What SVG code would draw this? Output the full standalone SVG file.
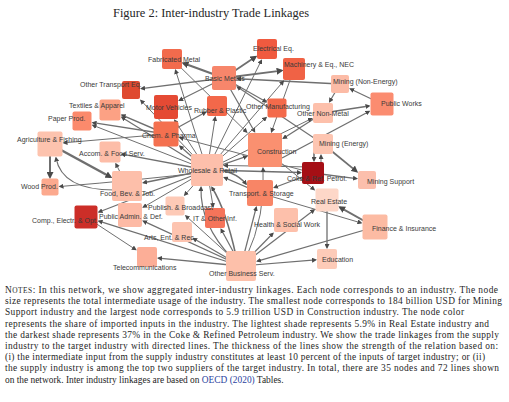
<svg xmlns="http://www.w3.org/2000/svg" width="509" height="402" viewBox="0 0 509 402">
<defs>
<style>
.e{fill:none;stroke:#6f6f6f;stroke-width:1;marker-end:url(#a)}
.k{marker-end:url(#b)}
.l{font-family:"Liberation Sans",Arial,sans-serif;font-size:7px;fill:#3a3a3a}
.t{font-family:"Liberation Serif","Times New Roman",serif;fill:#262626}
</style>
<marker id="a" viewBox="0 0 10 10" refX="7" refY="5" markerWidth="5" markerHeight="5" orient="auto" markerUnits="userSpaceOnUse"><path d="M0,0L10,5L0,10z" fill="#4a4a4a"/></marker>
<marker id="b" viewBox="0 0 10 10" refX="7" refY="5" markerWidth="7" markerHeight="7" orient="auto" markerUnits="userSpaceOnUse"><path d="M0,0L10,5L0,10z" fill="#4a4a4a"/></marker>
</defs>
<rect width="509" height="402" fill="#fff"/>
<text class="t" x="113" y="16.5" font-size="12.5" textLength="196" lengthAdjust="spacingAndGlyphs">Figure 2: Inter-industry Trade Linkages</text>
<g id="edges">
<path class="e k" style="stroke-width:2.2" d="M224,78L183.5,63.2"/>
<path class="e" style="stroke-width:1.3" d="M224,78L141.5,88.6"/>
<path class="e" style="stroke-width:1.2" d="M224,78L179.5,100.3"/>
<path class="e k" style="stroke-width:1.8" d="M224,78L255.5,56.8"/>
<path class="e k" style="stroke-width:1.8" d="M224,78L281.5,70.6"/>
<path class="e" style="stroke-width:1.2" d="M224,78L266,101.8"/>
<path class="e" style="stroke-width:1.2" d="M224,78L254.5,131.5"/>
<path class="e" style="stroke-width:1.5" d="M340,84L237.5,78.7"/>
<path class="e" style="stroke-width:1.2" d="M323,144L237.5,87"/>
<path class="e" d="M207,170L175.6,70.5"/>
<path class="e" d="M207,170L261.3,60.5"/>
<path class="e" d="M207,170L283.2,81.5"/>
<path class="e" style="stroke-width:1.5" d="M166,134L122,115.1"/>
<path class="e" style="stroke-width:1.2" d="M207,170L122,117.4"/>
<path class="e" style="stroke-width:1.3" d="M166,134L93,122.7"/>
<path class="e" d="M207,170L93,125.3"/>
<path class="e" d="M207,170L141,100.5"/>
<path class="e" style="stroke-width:1.3" d="M166,134L205.5,112.3"/>
<path class="e" d="M166,134L64,142.8"/>
<path class="e" style="stroke-width:1.3" d="M207,170L122,154.2"/>
<path class="e k" style="stroke-width:2.5" d="M50,144L110.5,177"/>
<path class="e k" style="stroke-width:2" d="M50,144L50,177"/>
<path class="e" style="stroke-width:1.2" d="M114,190Q62,190 56,158"/>
<path class="e" d="M127,186L116,164"/>
<path class="e" style="stroke-width:1.5" d="M207,170L143.5,182.7"/>
<path class="e" d="M207,172Q140,180 60,186.5"/>
<path class="e" style="stroke-width:1.2" d="M207,170L99,212"/>
<path class="e" style="stroke-width:1.3" d="M241,266L99,221.1"/>
<path class="e" style="stroke-width:1.3" d="M241,266L143.5,221.2"/>
<path class="e" style="stroke-width:1.3" d="M241,266L158.5,258.1"/>
<path class="e" d="M86,217L135.5,249.5"/>
<path class="e" d="M241,266L186,216"/>
<path class="e" style="stroke-width:1.2" d="M241,266L221.2,229.5"/>
<path class="e" style="stroke-width:1.2" d="M241,266L193.5,238.6"/>
<path class="e" style="stroke-width:1.5" d="M236,256Q226,210 212,187.5"/>
<path class="e" style="stroke-width:1.2" d="M232,258Q200,225 201,187.5"/>
<path class="e" style="stroke-width:1.2" d="M241,266L256.2,207.5"/>
<path class="e" style="stroke-width:1.2" d="M241,266L272.8,233.5"/>
<path class="e" style="stroke-width:1.2" d="M241,266L314,210"/>
<path class="e" style="stroke-width:1.2" d="M241,266L315.5,259.9"/>
<path class="e" style="stroke-width:1.2" d="M375,227L257.5,261.2"/>
<path class="e" d="M260,193L361,222.9"/>
<path class="e k" style="stroke-width:2" d="M375,227L340,207.3"/>
<path class="e" style="stroke-width:1.3" d="M327,200L327,247.5"/>
<path class="e" style="stroke-width:1.3" d="M313,173L274.5,187.5"/>
<path class="e" style="stroke-width:1.3" d="M313,173L356.5,178.6"/>
<path class="e k" style="stroke-width:1.8" d="M323,144L356.5,171.4"/>
<path class="e" style="stroke-width:1.6" d="M314,144L314,160.5"/>
<path class="e" d="M321,173L321,155.5"/>
<path class="e" style="stroke-width:1.5" d="M207,170L300.5,172.6"/>
<path class="e" style="stroke-width:1.2" d="M313,167L224.5,165.5"/>
<path class="e" d="M313,173L180,137.7"/>
<path class="e" style="stroke-width:1.2" d="M260,193L224.5,177.6"/>
<path class="e" style="stroke-width:1.5" d="M207,168Q235,170 246,184"/>
<path class="e" d="M207,170L184.8,195"/>
<path class="e" d="M207,170L213.1,206.5"/>
<path class="e" d="M207,170L143.5,207.1"/>
<path class="e" style="stroke-width:1.3" d="M207,170L246.5,156.4"/>
<path class="e" style="stroke-width:1.3" d="M323,113L283.5,138.2"/>
<path class="e" style="stroke-width:1.3" d="M323,113L369,106"/>
<path class="e" style="stroke-width:1.3" d="M282,158L369,111.5"/>
<path class="e" style="stroke-width:1.2" d="M382,104L350.5,89"/>
<path class="e" style="stroke-width:1.2" d="M340,84L329.7,101.5"/>
<path class="e" d="M207,170L215.2,117.5"/>
<path class="e" d="M207,170L266,117.7"/>
<path class="e" d="M207,170L311.5,118.7"/>
<path class="e" d="M207,170L174.8,120.5"/>
<path class="e" style="stroke-width:1.2" d="M207,170L180,146.3"/>
<path class="e" d="M265,150L314,189.5"/>
<path class="e" d="M246,258Q266,215 263,168.5"/>
<path class="e" d="M172,59L246.5,131.9"/>
<path class="e" d="M294,69L271.6,131.5"/>
</g>
<g id="nodes">
<g id="n-fm"><rect x="162" y="49" width="20" height="20" rx="2" fill="#f26b4d"/><text class="l" x="148" y="62">Fabricated Metal</text></g>
<g id="n-ee"><rect x="257" y="39" width="20" height="20" rx="2" fill="#f05a3f"/><text class="l" x="253" y="50.5">Electrical Eq.</text></g>
<g id="n-ma"><rect x="283" y="58" width="22" height="22" rx="2" fill="#f06245"/><text class="l" x="284" y="66.5">Machinery &amp; Eq., NEC</text></g>
<g id="n-bm"><rect x="212" y="66" width="24" height="24" rx="2" fill="#f7866b"/><text class="l" x="205" y="80.5">Basic Metals</text></g>
<g id="n-ot"><rect x="122" y="81" width="18" height="18" rx="2" fill="#df4a30"/><text class="l" x="80" y="86.5">Other Transport Eq.</text></g>
<g id="n-mv"><rect x="154" y="95" width="24" height="24" rx="2" fill="#e54a34"/><text class="l" x="146" y="109.5">Motor Vehicles</text></g>
<g id="n-tx"><rect x="99.5" y="99.5" width="21" height="21" rx="2" fill="#fca184"/><text class="l" x="69" y="107.5">Textiles &amp; Apparel</text></g>
<g id="n-pp"><rect x="72.5" y="111.5" width="19" height="19" rx="2" fill="#fb8a6c"/><text class="l" x="48" y="120.5">Paper Prod.</text></g>
<g id="n-ag"><rect x="37.5" y="131.5" width="25" height="25" rx="2" fill="#fdc3ae"/><text class="l" x="17" y="141.5">Agriculture &amp; Fishing</text></g>
<g id="n-ch"><rect x="153.5" y="121.5" width="25" height="25" rx="2" fill="#f4704f"/><text class="l" x="142" y="137.5">Chem. &amp; Pharma</text></g>
<g id="n-rp"><rect x="207" y="96" width="20" height="20" rx="2" fill="#f3684a"/><text class="l" x="194" y="112.5">Rubber &amp; Plastic</text></g>
<g id="n-om"><rect x="267.5" y="98.5" width="19" height="19" rx="2" fill="#f46a4b"/><text class="l" x="246" y="108.5">Other Manufacturing</text></g>
<g id="n-mn"><rect x="331" y="75" width="18" height="18" rx="2" fill="#fcbba6"/><text class="l" x="333" y="83.5">Mining (Non-Energy)</text></g>
<g id="n-pw"><rect x="370.5" y="92.5" width="23" height="23" rx="2" fill="#fb8c70"/><text class="l" x="381" y="105.5">Public Works</text></g>
<g id="n-on"><rect x="313" y="103" width="20" height="20" rx="2" fill="#fdc0ab"/><text class="l" x="297" y="115.5">Other Non-Metal</text></g>
<g id="n-ac"><rect x="99.5" y="141.5" width="21" height="21" rx="2" fill="#fdbda8"/><text class="l" x="79" y="155.5">Accom. &amp; Food Serv.</text></g>
<g id="n-wp"><rect x="41.5" y="178.5" width="17" height="17" rx="2" fill="#fca98e"/><text class="l" x="21" y="188.5">Wood Prod.</text></g>
<g id="n-fb"><rect x="112" y="171" width="30" height="30" rx="2" fill="#fdbfaa"/><text class="l" x="100" y="195.5">Food, Bev. &amp; Tob.</text></g>
<g id="n-ce"><rect x="74.5" y="205.5" width="23" height="23" rx="2" fill="#cc2e28"/><text class="l" x="32" y="222.5">Comp., Electr. &amp; Opt.</text></g>
<g id="n-pa"><rect x="118" y="203" width="24" height="24" rx="2" fill="#fdbaa5"/><text class="l" x="99" y="218.5">Public Admin. &amp; Def.</text></g>
<g id="n-tc"><rect x="137" y="247" width="20" height="20" rx="2" fill="#fcae97"/><text class="l" x="113" y="269.5">Telecommunications</text></g>
<g id="n-wr"><rect x="191" y="154" width="32" height="32" rx="2" fill="#fdbfab"/><text class="l" x="178" y="172.5">Wholesale &amp; Retail</text></g>
<g id="n-co"><rect x="248" y="133" width="34" height="34" rx="2" fill="#fa9070"/><text class="l" x="257" y="153.5">Construction</text></g>
<g id="n-me"><rect x="313" y="134" width="20" height="20" rx="2" fill="#fdc5b1"/><text class="l" x="319" y="145.5">Mining (Energy)</text></g>
<g id="n-ck"><rect x="302" y="162" width="22" height="22" rx="2" fill="#a50f15"/><text class="l" x="287" y="181">Coke &amp; Ref. Petrol.</text></g>
<g id="n-ts"><rect x="247" y="180" width="26" height="26" rx="2" fill="#f88566"/><text class="l" x="229" y="195.5">Transport. &amp; Storage</text></g>
<g id="n-re"><rect x="315.5" y="188.5" width="23" height="23" rx="2" fill="#fdd7c8"/><text class="l" x="311" y="203.5">Real Estate</text></g>
<g id="n-hs"><rect x="274" y="208" width="24" height="24" rx="2" fill="#fdc0ab"/><text class="l" x="254" y="226.5">Health &amp; Social Work</text></g>
<g id="n-it"><rect x="205" y="208" width="20" height="20" rx="2" fill="#f5745a"/><text class="l" x="193" y="220.5">IT &amp; Other Inf.</text></g>
<g id="n-pb"><rect x="165.5" y="196.5" width="19" height="19" rx="2" fill="#fdcab7"/><text class="l" x="148" y="209.5">Publish. &amp; Broadcast</text></g>
<g id="n-ar"><rect x="172" y="222" width="20" height="20" rx="2" fill="#fdc4b0"/><text class="l" x="144" y="239.5">Arts, Ent. &amp; Rec.</text></g>
<g id="n-ob"><rect x="226" y="251" width="30" height="30" rx="2" fill="#fdc0aa"/><text class="l" x="209" y="275.5">Other Business Serv.</text></g>
<g id="n-ed"><rect x="317" y="249" width="20" height="20" rx="2" fill="#fdcbb8"/><text class="l" x="322" y="261.5">Education</text></g>
<g id="n-ms"><rect x="358" y="171" width="18" height="18" rx="2" fill="#fcbfac"/><text class="l" x="367" y="183.5">Mining Support</text></g>
<g id="n-fi"><rect x="362.5" y="214.5" width="25" height="25" rx="2" fill="#fcbba3"/><text class="l" x="372" y="230.5">Finance &amp; Insurance</text></g>
</g>
<g id="notes" class="t" font-size="9.4">
<text x="5" y="293" textLength="493" lengthAdjust="spacing">N<tspan font-size="7.4">OTES</tspan>: In this network, we show aggregated inter-industry linkages. Each node corresponds to an industry. The node</text>
<text x="5" y="304.2" textLength="497" lengthAdjust="spacing">size represents the total intermediate usage of the industry. The smallest node corresponds to 184 billion USD for Mining</text>
<text x="5" y="315.4" textLength="459" lengthAdjust="spacing">Support industry and the largest node corresponds to 5.9 trillion USD in Construction industry. The node color</text>
<text x="5" y="326.6" textLength="484" lengthAdjust="spacing">represents the share of imported inputs in the industry. The lightest shade represents 5.9% in Real Estate industry and</text>
<text x="5" y="337.8" textLength="494" lengthAdjust="spacing">the darkest shade represents 37% in the Coke &amp; Refined Petroleum industry. We show the trade linkages from the supply</text>
<text x="5" y="349" textLength="493" lengthAdjust="spacing">industry to the target industry with directed lines. The thickness of the lines show the strength of the relation based on:</text>
<text x="5" y="360.2" textLength="480" lengthAdjust="spacing">(i) the intermediate input from the supply industry constitutes at least 10 percent of the inputs of target industry; or (ii)</text>
<text x="5" y="371.4" textLength="494" lengthAdjust="spacing">the supply industry is among the top two suppliers of the target industry. In total, there are 35 nodes and 72 lines shown</text>
<text x="5" y="382.6">on the network. Inter industry linkages are based on <tspan fill="#2b3f9e">OECD (2020)</tspan> Tables.</text>
</g>
</svg>
